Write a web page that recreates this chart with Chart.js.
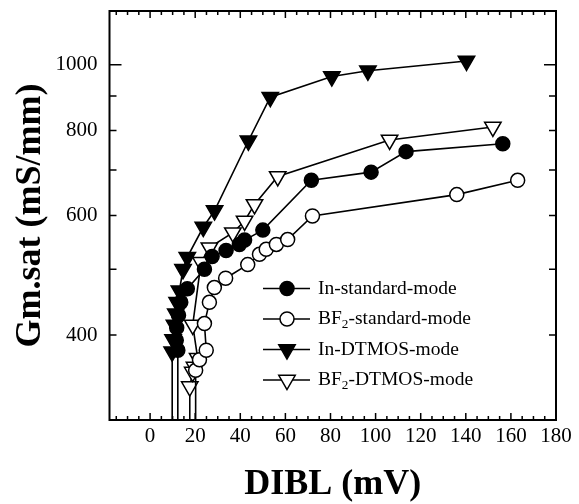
<!DOCTYPE html>
<html>
<head>
<meta charset="utf-8">
<script src="https://cdn.jsdelivr.net/npm/chart.js@4.4.1/dist/chart.umd.min.js"></script>
<style>
  html, body { margin: 0; padding: 0; background: #fff; }
  canvas { display: block; }
</style>
</head>
<body>
<canvas id="chart" width="579" height="504"></canvas>
<script>
// Saturation transconductance versus DIBL for four device splits.
// The first entry of each series lies below the plotted range, so the
// curve runs straight down into the bottom axis.
const inStdDibl  = [12.3, 12.3, 11.6, 11.8, 12.6, 13.6, 16.5, 24.1, 27.5, 33.7, 39.6, 41.9, 50.0, 71.5, 98.0, 113.5, 156.4];
const inStdGm    = [250, 380, 393, 410, 428, 447, 468, 500, 522, 533, 544, 552, 571, 676, 695, 745, 765];

const bfStdDibl  = [20.2, 20.2, 21.9, 24.9, 24.1, 26.3, 28.5, 33.5, 43.3, 48.5, 51.5, 56.0, 61.0, 72.0, 136.0, 163.0];
const bfStdGm    = [250, 355, 368, 380, 416, 447, 470, 485, 508, 526, 535, 544, 553, 599, 644, 676];

const inDtDibl   = [9.8, 9.8, 10.2, 10.8, 11.4, 12.0, 13.0, 14.6, 16.5, 23.6, 28.6, 43.6, 53.3, 80.6, 96.6, 140.3];
const inDtGm     = [250, 378, 394, 414, 430, 447, 465, 500, 521, 577, 610, 773, 896, 961, 980, 1013];

const bfDtDibl   = [17.6, 17.6, 18.9, 19.7, 21.1, 18.9, 22.6, 26.3, 36.7, 41.9, 46.3, 56.6, 106.2, 152.0];
const bfDtGm     = [250, 336, 353, 359, 370, 414, 512, 538, 566, 589, 623, 685, 775, 810];

const seriesNames = ['In-standard-mode', 'BF_2-standard-mode', 'In-DTMOS-mode', 'BF_2-DTMOS-mode'];

const xTickValues  = [0, 20, 40, 60, 80, 100, 120, 140, 160, 180];
const xMinorStep   = 5;
const yTickValues  = [400, 600, 800, 1000];
const yMinorValues = [500, 700, 900];

const SERIF = '"Liberation Serif", "Times New Roman", Times, serif';
const X_MIN = -18, X_MAX = 180, Y_MIN = 300, Y_MAX = 1200;

function pairs(xs, ys) {
  return xs.map((x, i) => ({ x: x, y: ys[i] }));
}

const styles = [
  { pointStyle: 'circle',   rotation: 0,   radius: 7,   fill: '#000' },
  { pointStyle: 'circle',   rotation: 0,   radius: 7,   fill: '#fff' },
  { pointStyle: 'triangle', rotation: 180, radius: 9.5, fill: '#000' },
  { pointStyle: 'triangle', rotation: 180, radius: 9.5, fill: '#fff' }
];

const seriesData = [
  pairs(inStdDibl, inStdGm),
  pairs(bfStdDibl, bfStdGm),
  pairs(inDtDibl, inDtGm),
  pairs(bfDtDibl, bfDtGm)
];

const datasets = seriesData.map((d, i) => ({
  label: seriesNames[i],
  data: d,
  showLine: true,
  borderColor: '#000',
  borderWidth: 1.6,
  tension: 0,
  clip: 0,
  pointStyle: styles[i].pointStyle,
  rotation: styles[i].rotation,
  pointRadius: ctx => (ctx.raw && ctx.raw.y < Y_MIN ? 0 : styles[i].radius),
  pointBackgroundColor: styles[i].fill,
  pointBorderColor: '#000',
  pointBorderWidth: 1.5,
  pointHoverRadius: styles[i].radius
}));

// Boxed frame with inward ticks on all four sides
const frameTicks = {
  id: 'frameTicks',
  afterDatasetsDraw(chart) {
    const { ctx, chartArea: a, scales: { x, y } } = chart;
    ctx.save();
    ctx.strokeStyle = '#000';
    ctx.lineWidth = 1.5;
    ctx.beginPath();
    for (let v = Math.ceil(X_MIN / xMinorStep) * xMinorStep; v <= X_MAX; v += xMinorStep) {
      const px = x.getPixelForValue(v);
      const len = xTickValues.includes(v) ? 7 : 4;
      ctx.moveTo(px, a.bottom); ctx.lineTo(px, a.bottom - len);
      ctx.moveTo(px, a.top);    ctx.lineTo(px, a.top + len);
    }
    const yMarks = yTickValues.map(v => [v, v === 1000 ? 12 : 7]).concat(yMinorValues.map(v => [v, 7]));
    yMarks.forEach(([v, len]) => {
      const py = y.getPixelForValue(v);
      ctx.moveTo(a.left, py);  ctx.lineTo(a.left + len, py);
      ctx.moveTo(a.right, py); ctx.lineTo(a.right - len, py);
    });
    ctx.stroke();
    ctx.lineWidth = 2;
    ctx.strokeRect(a.left, a.top, a.right - a.left, a.bottom - a.top);
    ctx.restore();
  }
};

function drawMarker(ctx, style, cx, cy) {
  ctx.beginPath();
  if (style.pointStyle === 'circle') {
    ctx.arc(cx, cy, style.radius, 0, Math.PI * 2);
  } else {
    let rad = style.rotation * Math.PI / 180;
    const r = style.radius;
    ctx.moveTo(cx + Math.sin(rad) * r, cy - Math.cos(rad) * r);
    rad += 2 * Math.PI / 3;
    ctx.lineTo(cx + Math.sin(rad) * r, cy - Math.cos(rad) * r);
    rad += 2 * Math.PI / 3;
    ctx.lineTo(cx + Math.sin(rad) * r, cy - Math.cos(rad) * r);
    ctx.closePath();
  }
  ctx.fillStyle = style.fill;
  ctx.fill();
  ctx.lineWidth = 1.5;
  ctx.strokeStyle = '#000';
  ctx.stroke();
}

// Text with "_n" written as a subscript
function drawRichText(ctx, text, x, y, size) {
  const parts = text.split(/_(\w)/);
  let cx = x;
  parts.forEach((p, i) => {
    const sub = i % 2 === 1;
    ctx.font = (sub ? size * 0.68 : size) + 'px ' + SERIF;
    ctx.fillText(p, cx, sub ? y + size * 0.28 : y);
    cx += ctx.measureText(p).width;
  });
}

const insetLegend = {
  id: 'insetLegend',
  afterDraw(chart) {
    const { ctx } = chart;
    const lineX0 = 263, lineX1 = 310, markX = 287, textX = 318, rowY0 = 288.5, rowDy = 30.5;
    ctx.save();
    chart.data.datasets.forEach((ds, i) => {
      const cy = rowY0 + i * rowDy;
      ctx.strokeStyle = '#000';
      ctx.lineWidth = 1.6;
      ctx.beginPath();
      ctx.moveTo(lineX0, cy); ctx.lineTo(lineX1, cy);
      ctx.stroke();
      drawMarker(ctx, styles[i], markX, cy);
      ctx.fillStyle = '#000';
      ctx.textBaseline = 'middle';
      ctx.textAlign = 'left';
      drawRichText(ctx, ds.label, textX, cy, 19.5);
    });
    ctx.restore();
  }
};

new Chart(document.getElementById('chart'), {
  type: 'scatter',
  data: { datasets: datasets },
  options: {
    responsive: false,
    animation: false,
    events: [],
    layout: { padding: { top: 9, right: 23, bottom: 0, left: 0 } },
    plugins: { legend: { display: false }, tooltip: { enabled: false } },
    scales: {
      x: {
        type: 'linear',
        min: X_MIN,
        max: X_MAX,
        afterBuildTicks: s => { s.ticks = xTickValues.map(v => ({ value: v })); },
        afterFit: s => { s.height = 84; s.paddingLeft = 0; s.paddingRight = 0; },
        grid: { display: false, drawTicks: false },
        border: { display: false },
        ticks: {
          font: { family: SERIF, size: 21 },
          color: '#000',
          padding: 4,
          maxRotation: 0,
          autoSkip: false,
          callback: v => String(v)
        },
        title: {
          display: true,
          text: 'DIBL (mV)',
          color: '#000',
          font: { family: SERIF, size: 36, weight: 'bold' },
          padding: { top: 0, bottom: -2 }
        }
      },
      y: {
        type: 'logarithmic',
        min: Y_MIN,
        max: Y_MAX,
        afterBuildTicks: s => { s.ticks = yTickValues.map(v => ({ value: v })); },
        afterFit: s => { s.width = 109.5; s.paddingTop = 0; s.paddingBottom = 0; },
        grid: { display: false, drawTicks: false },
        border: { display: false },
        ticks: {
          font: { family: SERIF, size: 21 },
          color: '#000',
          padding: 12,
          autoSkip: false,
          callback: v => String(v)
        },
        title: {
          display: true,
          text: 'Gm.sat (mS/mm)',
          color: '#000',
          font: { family: SERIF, size: 36, weight: 'bold' },
          padding: { top: 9, bottom: 0 }
        }
      }
    }
  },
  plugins: [frameTicks, insetLegend]
});
</script>
</body>
</html>
